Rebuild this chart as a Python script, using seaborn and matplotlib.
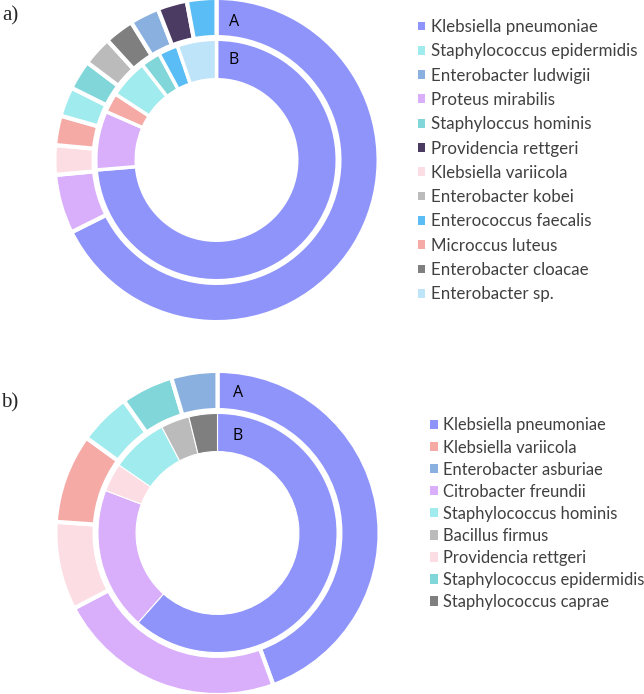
import numpy as np
import pandas as pd
import matplotlib
matplotlib.use("Agg")
import matplotlib.pyplot as plt
import seaborn as sns
from matplotlib.patches import Patch

sns.set_style("white")
plt.rcParams["font.family"] = ["Lato", "DejaVu Sans"]

# ---------------- data: panel a ----------------
a_outer_labels = ["Klebsiella pneumoniae", "Proteus mirabilis", "Klebsiella variicola",
                  "Microccus luteus", "Staphylococcus epidermidis", "Staphyloccus hominis",
                  "Enterobacter kobei", "Enterobacter cloacae", "Enterobacter ludwigii",
                  "Providencia rettgeri", "Enterococcus faecalis"]
a_outer_values = [23, 2, 1, 1, 1, 1, 1, 1, 1, 1, 1]
a_inner_labels = ["Klebsiella pneumoniae", "Proteus mirabilis", "Microccus luteus",
                  "Staphylococcus epidermidis", "Staphyloccus hominis",
                  "Enterococcus faecalis", "Enterobacter sp."]
a_inner_values = [28, 3, 1, 2, 1, 1, 2]
a_legend = ["Klebsiella pneumoniae", "Staphylococcus epidermidis", "Enterobacter ludwigii",
            "Proteus mirabilis", "Staphyloccus hominis", "Providencia rettgeri",
            "Klebsiella variicola", "Enterobacter kobei", "Enterococcus faecalis",
            "Microccus luteus", "Enterobacter cloacae", "Enterobacter sp."]
a_colors = ["#8F94FB", "#A0EBEE", "#8AB0E0", "#D9AEFB", "#80D6D8", "#4B3B62",
            "#FDDDE4", "#BBBBBB", "#5ABDF5", "#F5AAA6", "#7F7F7F", "#BDE4F8"]

# ---------------- data: panel b ----------------
b_outer_labels = ["Klebsiella pneumoniae", "Citrobacter freundii", "Providencia rettgeri",
                  "Klebsiella variicola", "Staphylococcus hominis",
                  "Staphylococcus epidermidis", "Enterobacter asburiae"]
b_outer_values = [44.4, 22.9, 8.8, 8.9, 5.2, 5.2, 4.6]
b_inner_labels = ["Klebsiella pneumoniae", "Citrobacter freundii", "Providencia rettgeri",
                  "Staphylococcus hominis", "Bacillus firmus", "Staphylococcus caprae"]
b_inner_values = [16, 5, 1, 2, 1, 1]
b_legend = ["Klebsiella pneumoniae", "Klebsiella variicola", "Enterobacter asburiae",
            "Citrobacter freundii", "Staphylococcus hominis", "Bacillus firmus",
            "Providencia rettgeri", "Staphylococcus epidermidis", "Staphylococcus caprae"]
b_colors = ["#8F94FB", "#F5AAA6", "#8AB0E0", "#D9AEFB", "#A0EBEE", "#BBBBBB",
            "#FDDDE4", "#80D6D8", "#7F7F7F"]

W, H = 644, 694
fig = plt.figure(figsize=(W / 100, H / 100), dpi=100)
fig.patch.set_facecolor("white")

HALF = 170


def donut(cx, cy, outer_vals, outer_labs, inner_vals, inner_labs, cmap,
          lw_out, lw_in):
    ax = fig.add_axes([(cx - HALF) / W, (H - cy - HALF) / H, 2 * HALF / W, 2 * HALF / H])
    px = 72 / 100  # points per pixel
    o_out = 160 + lw_out / px / 2
    o_in = 125 - lw_out / px / 2
    ax.pie(outer_vals, radius=o_out, colors=[cmap[l] for l in outer_labs],
           startangle=90, counterclock=False,
           wedgeprops=dict(width=o_out - o_in, edgecolor="white", linewidth=lw_out))
    i_out = 119 + lw_in / px / 2
    i_in = 82 - lw_in / px / 2
    ax.pie(inner_vals, radius=i_out, colors=[cmap[l] for l in inner_labs],
           startangle=90, counterclock=False,
           wedgeprops=dict(width=i_out - i_in, edgecolor="white", linewidth=lw_in))
    ax.set_xlim(-HALF, HALF)
    ax.set_ylim(-HALF, HALF)
    ax.set_aspect("equal")
    ax.axis("off")
    return ax


cmap_a = dict(zip(a_legend, a_colors))
cmap_b = dict(zip(b_legend, b_colors))

ring_font = dict(ha="center", va="center", fontsize=11.5, color="#000000",
                 family=["Open Sans", "DejaVu Sans"])

ax_a = donut(216.5, 160, a_outer_values, a_outer_labels, a_inner_values, a_inner_labels,
             cmap_a, 3.0, 2.5)
ax_a.text(17.5, 138, "A", **ring_font)
ax_a.text(17.5, 100, "B", **ring_font)

ax_b = donut(217.5, 533, b_outer_values, b_outer_labels, b_inner_values, b_inner_labels,
             cmap_b, 3.0, 0.8)
ax_b.text(20.5, 140, "A", **ring_font)
ax_b.text(20.5, 97, "B", **ring_font)

# panel letters
fig.text(2 / W, 1 - 6 / H, "a)", ha="left", va="top", fontsize=15,
         family=["Liberation Serif", "DejaVu Serif"])
fig.text(1 / W, 1 - 393 / H, "b)", ha="left", va="top", fontsize=15,
         family=["Liberation Serif", "DejaVu Serif"])

# legends
h_a = [Patch(facecolor=c, edgecolor="none") for c in a_colors]
leg_a = fig.legend(h_a, a_legend, loc="upper left", bbox_to_anchor=(418 / W, 1 - 19 / H),
                   frameon=False, fontsize=12.2, handlelength=0.42, handleheight=0.42,
                   handletextpad=0.35, labelspacing=0.49, borderpad=0, borderaxespad=0,
                   labelcolor="#404040")
h_b = [Patch(facecolor=c, edgecolor="none") for c in b_colors]
leg_b = fig.legend(h_b, b_legend, loc="upper left", bbox_to_anchor=(430 / W, 1 - 417.5 / H),
                   frameon=False, fontsize=11.9, handlelength=0.5, handleheight=0.5,
                   handletextpad=0.3, labelspacing=0.365, borderpad=0, borderaxespad=0,
                   labelcolor="#404040")

fig.savefig("out.png", dpi=100, facecolor="white")
